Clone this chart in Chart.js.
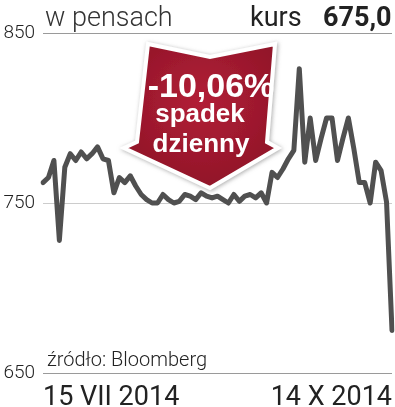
<!DOCTYPE html>
<html>
<head>
<meta charset="utf-8">
<script src="https://cdn.jsdelivr.net/npm/chart.js@4/dist/chart.umd.min.js"></script>
<style>
    body { margin: 0; background: #fff; }
    #wrap { position: relative; width: 395px; height: 407px; overflow: hidden; }
    #chart { position: absolute; left: 0; top: 0; }
    .txt { position: absolute; line-height: 1; white-space: nowrap; font-family: Roboto, "Liberation Sans", sans-serif; color: #222; }
    #arrow { position: absolute; left: 0; top: 0; }
    .red { color: #fff; font-weight: bold; text-align: center; font-family: "Liberation Sans", Roboto, sans-serif; }
</style>
</head>
<body>
<div id="wrap">
    <canvas id="chart" width="395" height="407"></canvas>
    <svg id="arrow" width="395" height="407">
        <defs>
            <radialGradient id="redFill" cx="50%" cy="40%" r="65%">
                <stop offset="0%" stop-color="#b21f37"/>
                <stop offset="100%" stop-color="#8e1427"/>
            </radialGradient>
            <filter id="glow" x="-20%" y="-20%" width="140%" height="140%">
                <feDropShadow dx="1" dy="1" stdDeviation="2" flood-color="#888" flood-opacity="0.7"/>
            </filter>
        </defs>
        <polygon points="148,44 210,57 275,44 267,142 278,148 210,188 124,148 137,142"
                 fill="url(#redFill)" stroke="#fff" stroke-width="4" stroke-linejoin="miter" filter="url(#glow)"/>
    </svg>
    <div class="txt" style="left:45px; top:4px; font-size:27px; font-weight:300; color:#333;">w pensach</div>
    <div class="txt" style="left:250px; top:4px; font-size:27px; color:#222;">kurs</div>
    <div class="txt" style="left:323px; top:4px; font-size:27px; font-weight:bold; color:#222;">675,0</div>
    <div class="txt" style="left:47px; top:349px; font-size:20px; font-weight:300; color:#222;">źródło: Bloomberg</div>
    <div class="txt red" style="left:111px; width:200px; top:68px; font-size:34px;">-10,06%</div>
    <div class="txt red" style="left:100px; width:200px; top:100px; font-size:26px;">spadek</div>
    <div class="txt red" style="left:101px; width:200px; top:130px; font-size:26px;">dzienny</div>
</div>
<script>
    // notowania (sesje od 15 VII do 14 X 2014)
    var dates = [
        '2014-07-15', '2014-07-16', '2014-07-17', '2014-07-18', '2014-07-21', '2014-07-22', '2014-07-23',
        '2014-07-24', '2014-07-25', '2014-07-28', '2014-07-29', '2014-07-30', '2014-07-31',
        '2014-08-01', '2014-08-04', '2014-08-05', '2014-08-06', '2014-08-07', '2014-08-08', '2014-08-11',
        '2014-08-12', '2014-08-13', '2014-08-14', '2014-08-15', '2014-08-18', '2014-08-19', '2014-08-20',
        '2014-08-21', '2014-08-22', '2014-08-26', '2014-08-27', '2014-08-28', '2014-08-29',
        '2014-09-01', '2014-09-02', '2014-09-03', '2014-09-04', '2014-09-05', '2014-09-08', '2014-09-09',
        '2014-09-10', '2014-09-11', '2014-09-12', '2014-09-15', '2014-09-16', '2014-09-17', '2014-09-18',
        '2014-09-19', '2014-09-22', '2014-09-23', '2014-09-24', '2014-09-25', '2014-09-26', '2014-09-29',
        '2014-09-30', '2014-10-01', '2014-10-02', '2014-10-03', '2014-10-06', '2014-10-07', '2014-10-08',
        '2014-10-09', '2014-10-10', '2014-10-13', '2014-10-14'
    ];

    var prices = [
        762, 765, 775, 728, 771, 779, 775, 780, 776, 779, 783, 776, 775,
        756, 765, 762, 766, 760, 755, 752, 750, 750, 755, 752, 750, 751,
        755, 754, 752, 756, 754, 753, 754, 752, 750, 755, 751, 754, 755,
        753, 756, 750, 768, 765, 770, 776, 781, 829, 774, 800, 775, 788,
        800, 800, 775, 788, 800, 782, 762, 762, 750, 774, 769, 750.5, 675
    ];

    var xTickLabels = ['15 VII 2014', '14 X 2014'];
    var yTicks = [650, 750, 850];

    var ctx = document.getElementById('chart').getContext('2d');

    new Chart(ctx, {
        type: 'line',
        data: {
            labels: dates,
            datasets: [
                {
                    data: prices,
                    borderColor: '#505050',
                    borderWidth: 5,
                    borderJoinStyle: 'round',
                    borderCapStyle: 'round',
                    pointRadius: 0,
                    tension: 0,
                    fill: false
                }
            ]
        },
        options: {
            responsive: false,
            devicePixelRatio: 1,
            animation: false,
            layout: {
                padding: { top: 33, right: 3, left: 0, bottom: 0 }
            },
            plugins: {
                legend: { display: false },
                tooltip: { enabled: false }
            },
            scales: {
                x: {
                    grid: { display: false },
                    border: { display: false },
                    afterFit: function (axis) { axis.height = 34; },
                    ticks: {
                        autoSkip: false,
                        maxRotation: 0,
                        align: 'inner',
                        padding: 1,
                        color: '#222',
                        font: { family: 'Roboto, "Liberation Sans", sans-serif', size: 27 },
                        callback: function (val, index) {
                            if (index === 0) { return xTickLabels[0]; }
                            if (index === dates.length - 1) { return xTickLabels[1]; }
                            return '';
                        }
                    }
                },
                y: {
                    min: yTicks[0],
                    max: yTicks[yTicks.length - 1],
                    border: { display: false },
                    afterFit: function (axis) { axis.width = 43; },
                    afterBuildTicks: function (axis) {
                        axis.ticks = yTicks.map(function (v) { return { value: v }; });
                    },
                    grid: {
                        drawTicks: false,
                        lineWidth: 1,
                        color: function (c) {
                            return c.tick && c.tick.value === 750 ? '#cccccc' : '#9a9a9a';
                        }
                    },
                    ticks: {
                        padding: 8,
                        color: '#222',
                        font: { family: 'Roboto, "Liberation Sans", sans-serif', size: 19, weight: '300' }
                    }
                }
            }
        }
    });
</script>
</body>
</html>
